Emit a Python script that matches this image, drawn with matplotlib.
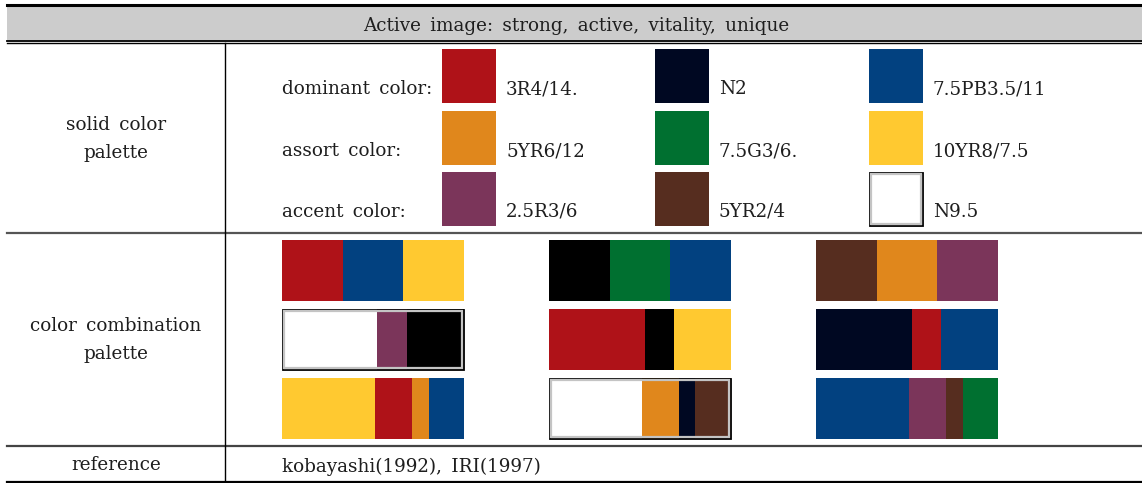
import matplotlib
matplotlib.use("Agg")
import matplotlib.pyplot as plt
from matplotlib.patches import Rectangle

# ─── Data ─────────────────────────────────────────────────────────────────────

header_text = "Active image: strong, active, vitality, unique"
row_titles = ["solid color\npalette", "color combination\npalette", "reference"]
role_labels = ["dominant color:", "assort color:", "accent color:"]
reference_text = "kobayashi(1992), IRI(1997)"

# solid palette: rows = dominant / assort / accent, cols = 3 swatches
munsell_codes = [
    ["3R4/14.", "N2", "7.5PB3.5/11"],
    ["5YR6/12", "7.5G3/6.", "10YR8/7.5"],
    ["2.5R3/6", "5YR2/4", "N9.5"],
]
swatch_colors = [
    ["#AF1218", "#000822", "#024180"],
    ["#E0871C", "#007030", "#FFC930"],
    ["#7B355A", "#562D1F", "#FFFFFF"],
]

# combination palette: rows x cols, each entry = (colours, relative widths)
combo_colors = [
    [["#AF1218", "#024180", "#FFC930"],
     ["#000000", "#007030", "#024180"],
     ["#562D1F", "#E0871C", "#7B355A"]],
    [["#FFFFFF", "#7B355A", "#000000"],
     ["#AF1218", "#000000", "#FFC930"],
     ["#000822", "#AF1218", "#024180"]],
    [["#FFC930", "#AF1218", "#E0871C", "#024180"],
     ["#FFFFFF", "#E0871C", "#000822", "#562D1F"],
     ["#024180", "#7B355A", "#562D1F", "#007030"]],
]
combo_widths = [
    [[1, 1, 1], [1, 1, 1], [1, 1, 1]],
    [[95, 30, 57], [96, 29, 57], [96, 29, 57]],
    [[93, 37, 17, 35], [93, 37, 16, 36], [93, 37, 17, 35]],
]

# ─── Layout (pixel space) ─────────────────────────────────────────────────────

W, H = 1142, 483
FONT = ["DejaVu Serif", "Noto Sans CJK KR"]
FS = 13.2

fig = plt.figure(figsize=(W / 100, H / 100), dpi=100)
ax = fig.add_axes([0, 0, 1, 1])
ax.set_xlim(0, W)
ax.set_ylim(H, 0)
ax.axis("off")


def txt(x, y, s, ha="left", va="baseline", **kw):
    # the source used a Korean serif with wide (en) word spaces
    s = s.replace(" ", "\u2002")
    ax.text(x, y, s, ha=ha, va=va, fontsize=FS, family=FONT, color="#1E1E1E", **kw)


def framed(x0, y0, w, h):
    # black outer edge + light grey inner edge (white swatches)
    ax.add_patch(Rectangle((x0 + 0.5, y0 + 0.5), w - 1, h - 1, fill=False,
                           ec="black", lw=1.3, zorder=4))
    ax.add_patch(Rectangle((x0 + 2.2, y0 + 2.2), w - 4.4, h - 4.4, fill=False,
                           ec="#C4C4C4", lw=1.6, zorder=4))


# header
ax.add_patch(Rectangle((7, 6), W - 7, 34, color="#CCCCCC", lw=0, zorder=0))
ax.plot([7, W], [5, 5], color="black", lw=2.2)
ax.plot([7, W], [40.5, 40.5], color="black", lw=1.3)
ax.plot([7, W], [43, 43], color="black", lw=1.0)
txt(576, 31, header_text, ha="center")

# row separators
ax.plot([7, W], [233, 233], color="#555555", lw=1.6)
ax.plot([7, W], [446, 446], color="#444444", lw=1.6)
ax.plot([7, W], [482, 482], color="black", lw=1.6)
ax.plot([225, 225], [43, 482], color="black", lw=1.0)

# left column titles
title_y = [139, 340, 465]
for t, y in zip(row_titles, title_y):
    txt(116, y, t, ha="center", va="center", linespacing=1.75)

# solid colour palette
role_base = [94, 156, 217]
sw_x = [442, 655, 869]
sw_y = [49, 111, 172]
sw_size = 54
for r, lab in enumerate(role_labels):
    txt(282, role_base[r], lab)
    for c in range(3):
        col = swatch_colors[r][c]
        ax.add_patch(Rectangle((sw_x[c], sw_y[r]), sw_size, sw_size,
                               color=col, lw=0, zorder=3))
        if col == "#FFFFFF":
            framed(sw_x[c], sw_y[r], sw_size, sw_size)
        txt(sw_x[c] + 64, role_base[r], munsell_codes[r][c])

# colour combination palette
bar_x = [282, 549, 816]
bar_w = 182
bar_y = [270.5, 339.5, 408.5]
bar_h = 61
for r in range(3):
    for c in range(3):
        cols = combo_colors[r][c]
        ws = combo_widths[r][c]
        tot = float(sum(ws))
        left = bar_x[c]
        for col, w in zip(cols, ws):
            seg = bar_w * w / tot
            ax.barh(bar_y[r], seg, left=left, height=bar_h, color=col,
                    lw=0, zorder=3)
            left += seg
        if "#FFFFFF" in cols:
            framed(bar_x[c], bar_y[r] - bar_h / 2, bar_w, bar_h)

# reference row
txt(282, 472, reference_text)

fig.savefig("out.png", dpi=100)
